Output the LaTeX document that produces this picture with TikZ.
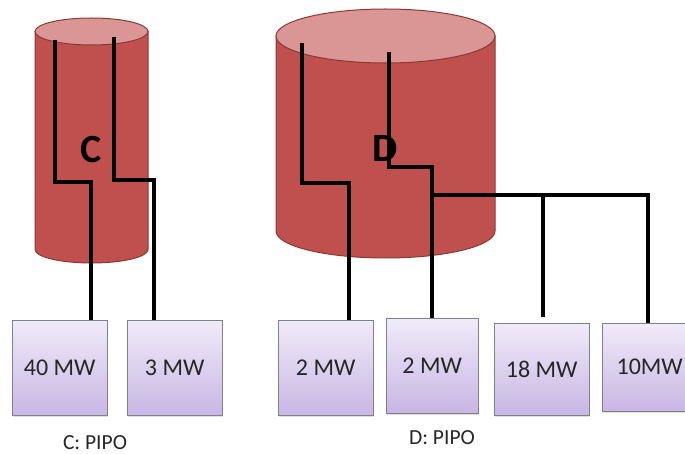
\documentclass[tikz,border=0pt]{standalone}
\usepackage{fontspec}
\setmainfont{Carlito}
\usetikzlibrary{positioning, shadows}

\definecolor{cylbody}{RGB}{192,80,77}
\definecolor{cyltop}{RGB}{217,150,148}
\definecolor{cyledge}{RGB}{140,56,54}
\definecolor{boxtop}{RGB}{240,235,249}
\definecolor{boxbot}{RGB}{200,182,228}
\definecolor{boxedge}{RGB}{128,128,140}

\begin{document}
\begin{tikzpicture}[
        x=1pt, y=-1pt,
        tank/.style={fill=cylbody, draw=cyledge, line width=1pt},
        lid/.style={fill=cyltop, draw=cyledge, line width=1pt},
        load/.style={rectangle, draw=boxedge, top color=boxtop, bottom color=boxbot, anchor=north west, minimum width=95pt, minimum height=95pt, font=\fontsize{24}{28}\selectfont, text=black!85, drop shadow={opacity=0.25, shadow xshift=1pt, shadow yshift=-1.5pt}},
        tag/.style={font=\fontsize{40}{44}\selectfont\bfseries},
        caption/.style={font=\fontsize{21.5}{25}\selectfont, text=black!85},
        wire/.style={line width=3.5pt, black}
    ]
        \useasboundingbox (0,0) rectangle (685,454);
        % tanks
        \filldraw[tank] (35,31.5) -- (35,249.5) arc[start angle=180, end angle=360, x radius=56.5pt, y radius=13.5pt] -- (148,31.5) -- cycle;
        \filldraw[lid] (91.5,31.5) ellipse [x radius=56.5pt, y radius=13.5pt];
        \filldraw[tank] (276,36) -- (276,231) arc[start angle=180, end angle=360, x radius=109.5pt, y radius=27pt] -- (495,36) -- cycle;
        \filldraw[lid] (385.5,36) ellipse [x radius=109.5pt, y radius=27pt];
        \node[tag] (tagC) at (91,150) {C};
        \node[tag] (tagD) at (385,149) {D};
        % loads
        \node[load] (b40) at (12,320) {40 MW};
        \node[load] (b3) at (127,320) {3 MW};
        \node[load] (b2a) at (278,320) {2 MW};
        \node[load, minimum width=92pt] (b2b) at (386,318) {2 MW};
        \node[load, minimum height=92pt] (b18) at (494,323) {18 MW};
        \node[load, minimum height=88pt] (b10) at (602,323) {10MW};
        \node[caption] (capC) at (95,443) {C: PIPO};
        \node[caption] (capD) at (442,438) {D: PIPO};
        % wires
        \coordinate (c1) at (55,40);
        \coordinate (c1k) at (91,182);
        \coordinate (c2) at (114,37);
        \coordinate (c2k) at (154,180);
        \coordinate (d1) at (302,43);
        \coordinate (d1k) at (349,183);
        \coordinate (d2) at (389,52);
        \coordinate (d2k) at (432,167);
        \coordinate (j) at (432,195);
        \coordinate (t18) at (543,193);
        \coordinate (k10) at (648,195);
        \draw[wire] (c1) |- (c1k) -- (c1k |- b40.north);
        \draw[wire] (c2) |- (c2k) -- (c2k |- b3.north);
        \draw[wire] (d1) |- (d1k) -- (d1k |- b2a.north);
        \draw[wire] (d2) |- (d2k) -- (d2k |- b2b.north);
        \draw[wire] (j) -- (k10) -- (k10 |- b10.north);
        \draw[wire, shorten >=6pt] (t18) -- (t18 |- b18.north);
    \end{tikzpicture}
\end{document}
